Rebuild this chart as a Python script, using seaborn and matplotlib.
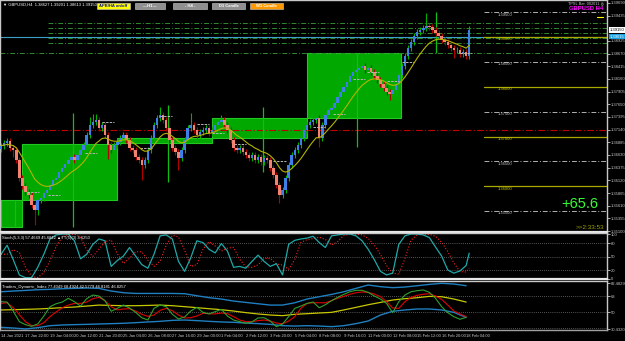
import numpy as np
import pandas as pd
import matplotlib
matplotlib.use("Agg")
import matplotlib.pyplot as plt
import seaborn as sns
from matplotlib.patches import Rectangle

sns.set_theme(style="dark")
plt.rcParams["font.family"] = ["Liberation Sans", "DejaVu Sans"]

# ---------------- data ----------------
closes = [1.3682,1.3688,1.3692,1.3678,1.3674,1.3653,1.3617,1.3601,1.3589,1.3583,
          1.3563,1.3553,1.3573,1.3577,1.3587,1.3593,1.3603,1.3613,1.3617,1.3629,
          1.3637,1.3645,1.3653,1.3659,1.3653,1.3663,1.3674,1.3684,1.3704,1.3724,
          1.3730,1.3734,1.3718,1.3724,1.3704,1.3684,1.3674,1.3684,1.3690,1.3698,
          1.3704,1.3694,1.3678,1.3674,1.3659,1.3653,1.3643,1.3653,1.3674,1.3698,
          1.3724,1.3738,1.3744,1.3734,1.3718,1.3694,1.3678,1.3670,1.3657,1.3674,
          1.3694,1.3718,1.3724,1.3714,1.3704,1.3710,1.3714,1.3718,1.3708,1.3714,
          1.3724,1.3730,1.3734,1.3724,1.3714,1.3694,1.3678,1.3674,1.3678,1.3670,
          1.3663,1.3657,1.3663,1.3653,1.3659,1.3649,1.3657,1.3653,1.3637,1.3623,
          1.3603,1.3583,1.3593,1.3617,1.3643,1.3663,1.3674,1.3684,1.3698,1.3714,
          1.3724,1.3730,1.3734,1.3738,1.3697,1.3723,1.3743,1.3754,1.3758,1.3768,
          1.3780,1.3790,1.3800,1.3810,1.3822,1.3830,1.3834,1.3838,1.3842,1.3834,
          1.3838,1.3830,1.3822,1.3814,1.3806,1.3798,1.3790,1.3786,1.3794,1.3806,
          1.3824,1.3842,1.3862,1.3878,1.3890,1.3903,1.3911,1.3915,1.3919,1.3923,
          1.3921,1.3915,1.3909,1.3903,1.3894,1.3890,1.3884,1.3878,1.3874,1.3874,
          1.3866,1.3870,1.3862,1.3915]
first_open = 1.3676
# wick lengths beyond the candle body, in pips
wick_up_pips = [6,6,6,6,6,6,6,6,6,6,   6,6,24,6,6,6,6,6,6,6,   6,6,6,6,6,6,6,6,6,16,
                16,12,6,6,6,6,6,6,6,6, 6,6,6,6,6,6,6,6,6,6,    6,6,16,6,6,6,6,6,6,6,
                6,6,24,6,6,6,6,6,6,6,  6,6,10,6,6,6,6,6,6,6,   6,6,6,6,6,6,6,6,6,6,
                6,6,6,6,6,6,6,6,6,6,   6,6,6,6,6,6,6,6,6,6,    6,6,6,6,6,30,6,6,20,6,
                6,6,6,6,6,6,6,6,6,6,   6,6,6,6,6,6,6,6,6,26,   6,6,6,6,6,6,6,6,6,6,
                6,6,6,8]
wick_dn_pips = [6,6,6,6,16,6,6,6,6,6,  6,30,10,6,6,6,6,6,6,6,  6,6,6,6,6,6,6,6,6,6,
                6,6,6,6,6,30,6,6,6,6,  6,6,6,6,6,6,30,6,6,6,   6,6,6,6,6,6,6,6,24,6,
                6,6,6,6,6,6,6,6,6,6,   6,6,6,6,6,6,6,6,6,6,    6,6,6,6,6,6,6,6,6,6,
                6,16,6,6,6,6,6,6,6,6,  6,6,6,6,18,6,6,6,6,6,   6,6,6,6,6,6,6,6,6,6,
                6,6,6,6,6,6,6,12,6,6,  6,6,6,6,6,6,6,6,6,6,    6,6,6,6,6,6,6,6,16,6,
                6,6,6,6]

stoch_main = [55,75,43,9,3,3,26,55,89,98,100,100,85,45,55,77,89,85,28,41,
              51,70,51,32,24,55,96,98,89,39,17,47,85,81,66,58,79,62,26,28,
              24,39,53,39,28,34,9,77,86,89,91,95,81,70,96,98,100,100,96,85,
              66,43,17,9,13,77,96,100,100,98,92,71,51,20,13,18,30]
stoch_last = 57.5

tdi_green = [61.6,61.2,51.1,39.1,35.8,33.9,36.5,45.5,55.9,59.3,61.2,65.4,61.6,56.7,65.0,69.1,
             68.0,62.7,50.8,54.1,57.9,54.5,49.6,43.6,41.0,54.1,57.9,56.0,47.4,42.1,44.4,51.1,
             55.3,49.6,47.8,50.4,53.0,45.5,41.0,39.1,37.3,38.8,43.3,43.6,39.8,33.5,36.5,44.8,
             54.1,56.7,59.7,61.2,54.8,58.2,62.7,66.5,69.8,72.8,74.4,74.4,72.1,68.0,64.6,59.7,
             49.2,61.6,69.1,72.8,74.0,74.8,72.1,65.4,56.0,49.2,44.8,41.8,44.0]
tdi_red = [59.7,60.4,54.8,47.0,39.1,34.6,34.6,38.0,44.8,50.0,54.8,57.8,59.7,59.7,61.2,65.0,
           66.5,62.7,56.0,52.3,53.4,53.7,51.1,47.4,45.1,46.6,51.9,54.1,51.5,46.6,43.3,43.6,
           45.5,48.5,48.1,47.8,48.9,48.1,44.8,41.0,39.1,39.1,40.3,41.0,39.8,37.6,36.8,39.8,
           44.8,54.1,59.7,60.4,60.4,60.4,62.7,65.4,67.6,69.9,71.7,72.5,72.1,70.2,67.2,61.6,
           54.5,54.1,61.6,66.5,68.8,69.9,70.6,68.0,64.2,57.8,51.1,47.8,44.8]
tdi_yellow = [52.3,52.6,53.0,53.4,54.1,54.9,55.6,56.7,57.8,57.4,57.1,57.1,57.4,57.8,57.1,56.0,
              54.9,53.7,52.6,51.1,49.3,47.8,46.6,45.9,47.4,48.1,48.9,49.6,52.3,55.2,58.2,60.8,
              63.5,65.0,66.1,67.6,67.2,64.6,61.2]
tdi_upper = [72.8,73.6,74.3,75.1,75.5,76.2,76.6,77.0,76.6,73.6,71.7,70.9,70.9,70.9,70.9,70.6,
             68.3,66.1,64.6,62.3,60.8,59.3,57.8,57.8,60.4,64.6,67.2,69.8,72.8,76.6,80.4,78.5,
             77.4,78.1,79.6,81.1,82.3,81.5,79.6]
tdi_lower = [32.8,32.0,30.9,32.4,34.6,35.4,35.8,36.1,36.5,36.9,37.3,38.0,38.8,39.5,40.6,41.0,
             40.3,39.5,38.8,38.4,37.6,36.9,36.1,34.6,34.2,34.6,34.2,33.5,34.6,36.9,39.9,46.6,
             50.8,52.3,53.4,53.4,52.3,49.6,44.0]

week_start = [0, 7, 38, 69, 100]
week_end = [7, 38, 69, 100, 131]
week_open = [1.3519, 1.3573, 1.3687, 1.3697, 1.3738]
week_close = [1.3573, 1.3685, 1.3697, 1.3738, 1.3868]
week_high = [1.3573, 1.3748, 1.3764, 1.3760, 1.3868]
week_low = [1.3519, 1.3518, 1.3609, 1.3629, 1.3679]
cur_week_bar = 142
cur_week_high, cur_week_low = 1.3951, 1.3868

day_open_bar = [8.5, 15.4, 27.5, 33, 45.4, 52, 64, 69, 76, 89, 102, 108.5, 115, 119.6, 126, 131, 150]
day_open_price = [1.3589, 1.3583, 1.3667, 1.3729, 1.3677, 1.3741, 1.3725, 1.3707, 1.3685,
                  1.3651, 1.3719, 1.3746, 1.3816, 1.3830, 1.3812, 1.3850, 1.3868]

green_levels = [1.39287, 1.39186, 1.39086, 1.38985, 1.38884, 1.38683]
red_level = 1.37133
bid_price = 1.39015
last_price = 1.39150
grid_levels = [1.395, 1.390, 1.385, 1.380, 1.375, 1.370, 1.365, 1.360, 1.355]

price_ticks = [1.39690,1.39435,1.38925,1.38670,1.38415,1.38160,1.37905,1.37650,
               1.37395,1.37140,1.36885,1.36630,1.36375,1.36120,1.35865,1.35610,1.35355,1.35100]
time_labels = ["14 Jan 2021","17 Jan 22:00","19 Jan 04:00","20 Jan 12:00","21 Jan 20:00",
               "25 Jan 04:00","26 Jan 08:00","27 Jan 16:00","29 Jan 00:00","1 Feb 04:00",
               "2 Feb 12:00","3 Feb 20:00","5 Feb 04:00","8 Feb 08:00","9 Feb 16:00",
               "11 Feb 00:00","12 Feb 08:00","15 Feb 12:00","16 Feb 20:00","18 Feb 04:00"]

# ---------------- derived frames ----------------
n = len(closes)
idx = np.arange(n)
opens = [first_open] + closes[:-1]
df = pd.DataFrame({"i": idx, "open": opens, "close": closes})
df["high"] = np.maximum(df.open, df.close) + np.array(wick_up_pips) * 1e-4
df["low"] = np.minimum(df.open, df.close) - np.array(wick_dn_pips) * 1e-4
df["ma"] = df.close.ewm(span=12, adjust=False).mean()

st_x = list(range(0, n, 2)) + [n - 1]
st_y = stoch_main + [stoch_last]
st = pd.DataFrame({"i": st_x, "main": st_y})
st["sig"] = st["main"].rolling(2, min_periods=1).mean().shift(1).fillna(st["main"])

tdi2 = pd.DataFrame({"i": list(range(0, n, 2)), "green": tdi_green, "red": tdi_red})
tdi4 = pd.DataFrame({"i": list(range(0, n, 4)), "yellow": tdi_yellow,
                     "upper": tdi_upper, "lower": tdi_lower})

# ---------------- figure ----------------
W, H = 625, 341
PW = 607
fig = plt.figure(figsize=(W / 100, H / 100), dpi=100, facecolor="black")
XR = PW / W
ax = fig.add_axes([0, 1 - 232 / H, XR, 232 / H])
ax_st = fig.add_axes([0, 1 - 279 / H, XR, 46 / H])
ax_td = fig.add_axes([0, 1 - 330 / H, XR, 49 / H])

xmin, xmax = -1 / 3.06, (PW - 1) / 3.06
fg = "#c8c8c8"
FS = 3.0
for a in (ax, ax_st, ax_td):
    a.set_facecolor("black")
    a.set_xlim(xmin, xmax)
    for s in a.spines.values():
        s.set_color(fg)
        s.set_linewidth(1.0)
    a.yaxis.tick_right()
    a.tick_params(axis="y", colors=fg, labelsize=FS, length=2, pad=1, width=0.6)
    a.tick_params(axis="x", length=0, labelbottom=False)
    a.grid(False)
for a in (ax, ax_st):
    a.spines["bottom"].set_color("#e8e8e8")
    a.spines["bottom"].set_linewidth(1.6)
ax_td.spines["bottom"].set_color("#a0a0a0")

# main price
ax.set_ylim(1.3508, 1.3975)
for s, e, o, c in zip(week_start, week_end, week_open, week_close):
    ax.add_patch(Rectangle((s - 0.15, min(o, c)), e - s, abs(c - o),
                           facecolor="#00a800", edgecolor="#22c822", lw=0.8, zorder=1))
wk_mid = [(s + e) / 2 + 1 for s, e in zip(week_start, week_end)]
ax.vlines(wk_mid, week_low, week_high, colors="#10c010", lw=0.9, zorder=2.5)
ax.vlines([cur_week_bar], [cur_week_low], [cur_week_high], colors="#10c010", lw=0.9, zorder=2.5)

ax.axhline(red_level, color="#c00000", lw=0.8, ls=(0, (6, 2, 1, 2)), zorder=2)
for k, lv in enumerate(green_levels):
    x0 = xmin if k == len(green_levels) - 1 else 15.4
    ax.plot([x0, xmax], [lv, lv], color="#2e8b2e", lw=0.7, ls=(0, (5, 2, 1, 2)), zorder=2)
ax.axhline(bid_price, color="#3aa0c8", lw=0.8, zorder=2)

for b, p in zip(day_open_bar, day_open_price):
    ax.plot([b, b + 4], [p, p], color="#b8b8b8", lw=0.7, ls=(0, (2.5, 1.2)), zorder=5)

gx0 = 483 / 3.06
for lv in grid_levels:
    yellow = abs(round(lv * 1000) % 10) == 0
    if yellow:
        ax.plot([gx0, xmax], [lv, lv], color="#a8a800", lw=0.9, zorder=2)
        col = "#c8c800"
    else:
        ax.plot([gx0, xmax], [lv, lv], color="#b0b0b0", lw=0.7, ls=(0, (5, 2, 1, 2)), zorder=2)
        col = "#c8c8c8"
    ax.text(497 / 3.06, lv - 0.00045, f"{lv:.5f}", color=col, fontsize=FS, va="center", ha="left")

up = df.close >= df.open
ax.vlines(df.i, df.low, df.high, colors=np.where(up, "#00b000", "#b00000"), lw=0.8, zorder=3)
ax.bar(df.i, df.close - df.open, bottom=df.open, width=0.8,
       color=np.where(up, "#3f80e8", "#f4826e"), linewidth=0, zorder=4)
sns.lineplot(data=df, x="i", y="ma", ax=ax, color="#b4b400", lw=0.8, zorder=5, legend=False)

ax.set_yticks(price_ticks)
ax.set_yticklabels([f"{t:.5f}" for t in price_ticks])
ax.set_xlabel("")
ax.set_ylabel("")

# header / buttons
tr = ax.transAxes
def px(x, y):
    return x / PW, 1 - y / 232
ax.text(*px(3, 4.5), "▼ GBPUSD,H4  1.38627 1.39201 1.38613 1.39150", transform=tr,
        color="white", fontsize=FS, va="center", ha="left")
buttons = [("APB/HA on/off", 97, 130, "#ffff00", "#1010a0"),
           ("—H1—", 135, 165, "#909090", "white"),
           ("- H4 -", 173, 207, "#909090", "white"),
           ("D1 Candle", 212, 245, "#909090", "white"),
           ("W1 Candle", 250, 283, "#ff9900", "white")]
for label, x0, x1, bg, fc in buttons:
    ax.add_patch(Rectangle(px(x0, 9), (x1 - x0) / PW, 6 / 232, transform=tr,
                           facecolor=bg, edgecolor="#d0d0d0", lw=0.4, zorder=6))
    ax.text(*px((x0 + x1) / 2, 6), label, transform=tr, color=fc, fontsize=FS,
            fontweight="bold", ha="center", va="center", zorder=7)

ax.text(*px(604, 3.5), "TPSL Bar, 002011 ◎", transform=tr, color="#c8c8c8",
        fontsize=2.8, ha="right", va="center")
ax.text(*px(603, 9), "GBPUSD H4", transform=tr, color="#ff00ff", fontsize=4.2,
        fontweight="bold", ha="right", va="center")
ax.plot([597 / 3.06 - 0.3, 603 / 3.06 - 0.3], [1.3940, 1.3940], color="#ffff00", lw=0.8)
ax.text(*px(598, 204), "+65.6", transform=tr, color="#33ff33", fontsize=10.5, ha="right", va="center")
ax.text(*px(604, 228), ">>2:33:53", transform=tr, color="#a0a000", fontsize=4.6, ha="right", va="center")

# price boxes on the axis
for price, txt, bg, fc in [(last_price, f"{last_price:.5f}", "white", "black"),
                           (bid_price, f"{bid_price:.5f}", "#1aa0e0", "white")]:
    ax.text(1.004, price, txt, transform=ax.get_yaxis_transform(), fontsize=FS, color=fc,
            va="center", ha="left", bbox=dict(boxstyle="square,pad=0.2", fc=bg, ec="none"),
            clip_on=False, zorder=8)

# stochastic
ax_st.set_ylim(0, 102.3)
for lv in (80, 50, 20):
    ax_st.axhline(lv, color="#a0a0a0", lw=0.5, ls=(0, (1, 2)))
sns.lineplot(data=st, x="i", y="sig", ax=ax_st, color="#ff2020", lw=0.8, ls=":", legend=False)
sns.lineplot(data=st, x="i", y="main", ax=ax_st, color="#20a8a8", lw=0.9, legend=False)
ax_st.set_yticks([100, 80, 50, 20, 0])
ax_st.set_yticklabels(["100", "80", "50", "20", "0"])
ax_st.set_xlabel(""); ax_st.set_ylabel("")
ax_st.text(0.004, 0.9, "Stoch(5,3,3) 57.4649 45.6842 ▲TT(5)(3) 4.6250", transform=ax_st.transAxes,
           color="white", fontsize=FS, va="center")

# TDI
ax_td.set_ylim(29.75, 84.9)
for lv in (68, 50, 32):
    ax_td.axhline(lv, color="#a0a0a0", lw=0.5, ls=(0, (1, 2)))
sns.lineplot(data=tdi4, x="i", y="upper", ax=ax_td, color="#1f7fc0", lw=1.0, legend=False)
sns.lineplot(data=tdi4, x="i", y="lower", ax=ax_td, color="#1f7fc0", lw=1.0, legend=False)
sns.lineplot(data=tdi4, x="i", y="yellow", ax=ax_td, color="#c8c800", lw=0.9, legend=False)
sns.lineplot(data=tdi2, x="i", y="red", ax=ax_td, color="#e00000", lw=0.8, legend=False)
sns.lineplot(data=tdi2, x="i", y="green", ax=ax_td, color="#30a030", lw=0.8, legend=False)
ax_td.set_yticks([82.4829, 68, 50, 30.4320])
ax_td.set_yticklabels(["82.4829", "68", "50", "30.4320"])
ax_td.set_xlabel(""); ax_td.set_ylabel("")
ax_td.text(0.004, 0.88, "Traders_Dynamic_Index 77.4049 68.4924 42.5779 46.8181 46.8257",
           transform=ax_td.transAxes, color="white", fontsize=FS, va="center")

ax_td.set_xticks(list(range(0, n, 8)))
ax_td.set_xticklabels(time_labels, ha="left")
ax_td.tick_params(axis="x", colors=fg, labelsize=FS, length=2, pad=1, labelbottom=True,
                  direction="out", width=0.6)

fig.savefig("out.png", dpi=100, facecolor="black")
